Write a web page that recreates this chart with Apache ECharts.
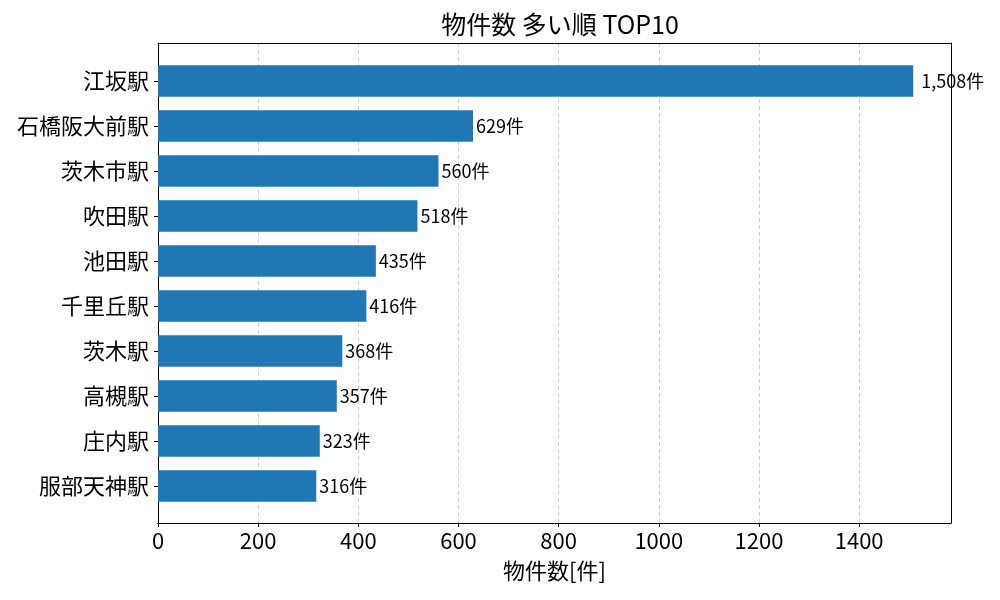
<!DOCTYPE html>
<html>
<head>
<meta charset="utf-8">
<script src="https://cdn.jsdelivr.net/npm/echarts@6/dist/echarts.min.js"></script>
<style>
html, body { margin: 0; padding: 0; background: #fff; }
#main { width: 1000px; height: 600px; }
</style>
</head>
<body>
<div id="main"></div>
<script>
var stations = ['江坂駅', '石橋阪大前駅', '茨木市駅', '吹田駅', '池田駅', '千里丘駅', '茨木駅', '高槻駅', '庄内駅', '服部天神駅'];
var counts = [1508, 629, 560, 518, 435, 416, 368, 357, 323, 316];
var xTicks = [0, 200, 400, 600, 800, 1000, 1200, 1400];

window.onload = function () {
    var font = '"Noto Sans CJK JP", "Noto Sans", sans-serif';
    var xMax = 1508 * 1.05;
    var maxCount = Math.max.apply(null, counts);
    var barData = counts.map(function (v) {
        return v === maxCount ? { value: v, label: { distance: 8 } } : v;
    });
    var frameLine = { show: true, onZero: false, lineStyle: { color: '#000', width: 1 } };
    var myChart = echarts.init(document.getElementById('main'));
    var option = {
        animation: false,
        textStyle: { fontFamily: font },
        title: {
            text: '物件数 多い順 TOP10',
            left: 555,
            top: 7,
            textAlign: 'center',
            textStyle: { fontFamily: font, fontSize: 25, fontWeight: 'normal', color: '#000' }
        },
        grid: [
            // frame + x axis
            { left: 158, right: 49, top: 43, bottom: 77 },
            // bars
            { left: 158, right: 49, top: 58.5, bottom: 91.5 }
        ],
        xAxis: [
            {
                gridIndex: 0,
                type: 'value',
                min: 0,
                max: xMax,
                interval: 200,
                name: '物件数[件]',
                nameLocation: 'middle',
                nameGap: 37,
                nameTextStyle: { fontFamily: font, fontSize: 22, color: '#000' },
                axisLine: frameLine,
                axisTick: { show: true, length: 4, lineStyle: { color: '#000' } },
                axisLabel: {
                    fontSize: 22, color: '#000', margin: 7, fontFamily: font,
                    showMaxLabel: false,
                    formatter: function (v) { return xTicks.indexOf(v) >= 0 ? String(v) : ''; }
                },
                splitLine: { show: true, showMinLine: false, showMaxLine: false, lineStyle: { color: '#cfcfcf', type: [4, 3], width: 1 } }
            },
            {
                gridIndex: 1,
                type: 'value',
                min: 0,
                max: xMax,
                show: false
            },
            {
                // top frame edge
                gridIndex: 0,
                type: 'value',
                position: 'top',
                min: 0,
                max: xMax,
                axisLine: frameLine,
                axisTick: { show: false },
                axisLabel: { show: false },
                splitLine: { show: false }
            }
        ],
        yAxis: [
            {
                // left frame edge
                gridIndex: 0,
                type: 'value',
                position: 'left',
                min: 0,
                max: 1,
                axisLine: frameLine,
                axisTick: { show: false },
                axisLabel: { show: false },
                splitLine: { show: false }
            },
            {
                gridIndex: 1,
                type: 'category',
                inverse: true,
                data: stations,
                axisLine: { show: false },
                axisTick: { show: true, alignWithLabel: true, length: 4, lineStyle: { color: '#000' } },
                axisLabel: { fontSize: 22, color: '#000', margin: 9, fontFamily: font },
                splitLine: { show: false }
            },
            {
                // right frame edge
                gridIndex: 0,
                type: 'value',
                position: 'right',
                min: 0,
                max: 1,
                axisLine: frameLine,
                axisTick: { show: false },
                axisLabel: { show: false },
                splitLine: { show: false }
            }
        ],
        series: [
            {
                type: 'bar',
                xAxisIndex: 1,
                yAxisIndex: 1,
                data: barData,
                barWidth: '70%',
                itemStyle: { color: '#1f77b4' },
                label: {
                    show: true,
                    position: 'right',
                    distance: 3,
                    fontSize: 18,
                    color: '#000',
                    fontFamily: font,
                    formatter: function (p) { return p.value.toLocaleString('en-US') + '件'; }
                }
            }
        ]
    };
    myChart.setOption(option);
};
</script>
</body>
</html>
